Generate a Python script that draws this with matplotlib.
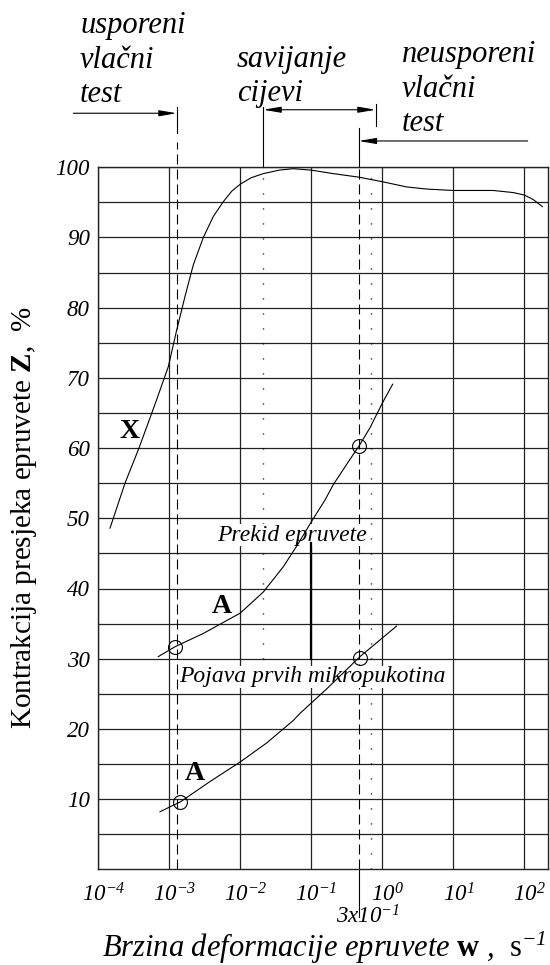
import matplotlib
matplotlib.use("Agg")
import matplotlib.pyplot as plt
import matplotlib.transforms as mtransforms
import numpy as np

plt.rcParams['font.family'] = ['Liberation Serif', 'DejaVu Serif']
plt.rcParams['mathtext.fontset'] = 'custom'
plt.rcParams['mathtext.rm'] = 'Liberation Serif:italic'
plt.rcParams['mathtext.it'] = 'Liberation Serif:italic'
plt.rcParams['mathtext.bf'] = 'Liberation Serif:bold'
plt.rcParams['mathtext.sf'] = 'Liberation Serif'
plt.rcParams['mathtext.default'] = 'it'

# data (x as log10 of strain rate, Z in %)
x_curve_log = [-3.835, -3.624, -3.427, -3.178, -3.014, -2.896, -2.779, -2.662, -2.521,
               -2.380, -2.239, -2.12, -2.0, -1.85, -1.676, -1.45, -1.254, -1.004,
               -0.69, -0.333, 0.0, 0.344, 0.625, 1.0, 1.563, 1.845, 2.0, 2.127, 2.254]
x_curve_z = [48.6, 55.0, 60.0, 66.9, 71.6, 76.8, 81.6, 86.1, 90.0,
             93.0, 95.1, 96.6, 97.6, 98.5, 99.1, 99.6, 99.8, 99.6,
             99.1, 98.6, 97.95, 97.2, 96.9, 96.7, 96.7, 96.4, 96.05, 95.4, 94.4]

a_break_log = [-3.155, -2.92, -2.521, -2.0, -1.676, -1.394, -1.183, -1.0, -0.807,
               -0.69, -0.455, -0.328, -0.173, 0.0, 0.146]
a_break_z = [30.3, 31.7, 33.6, 36.5, 39.5, 43.1, 46.4, 49.5, 52.6,
             54.8, 58.4, 60.3, 62.9, 66.4, 69.1]

a_crack_log = [-3.131, -2.84, -2.427, -2.0, -1.628, -1.254, -1.16, -0.783,
               -0.314, 0.203]
a_crack_z = [8.2, 9.63, 12.5, 15.3, 18.0, 21.2, 22.2, 25.7, 30.3, 34.66]

circle_log = [-2.915, -0.328, -2.854, -0.310]
circle_z = [31.6, 60.3, 9.63, 30.05]

xtick_vals = [1e-4, 1e-3, 1e-2, 1e-1, 1e0, 1e1, 1e2]
xtick_labels = [r'$10^{-4}$', r'$10^{-3}$', r'$10^{-2}$', r'$10^{-1}$',
                r'$10^{0}$', r'$10^{1}$', r'$10^{2}$']
ytick_vals = [10, 20, 30, 40, 50, 60, 70, 80, 90, 100]

w_slow = 1.27e-3      # dashed line, slow tensile test limit
w_bend = 0.0211       # dotted line, pipe bending start
w_fast = 0.465        # dashed line, 3x10^-1
w_bend_end = 0.807
w_dot2 = 0.70

W, H = 550, 965
fig = plt.figure(figsize=(W / 100, H / 100), dpi=100)
ax = fig.add_axes([98.3 / W, 1 - 869.3 / H, (548 - 98.3) / W, (869.3 - 167.3) / H])
ax.set_xscale('log')
ax.set_xlim(1e-4, 10 ** 2.334)
ax.set_ylim(0, 100)

ax.set_xticks(xtick_vals)
ax.set_xticklabels(xtick_labels)
ax.xaxis.set_minor_locator(matplotlib.ticker.NullLocator())
ax.set_yticks(ytick_vals)
ax.set_yticks(np.arange(5, 100, 10), minor=True)
ax.tick_params(axis='both', which='both', length=0, labelsize=16.5)
ax.tick_params(axis='x', pad=10)
ax.tick_params(axis='y', pad=6)
for lbl in ax.get_yticklabels():
    lbl.set_fontstyle('italic')
shift = mtransforms.ScaledTranslation(5 / 100, 0, fig.dpi_scale_trans)
for lbl in ax.get_xticklabels():
    lbl.set_transform(lbl.get_transform() + shift)
ax.grid(True, which='both', color='#222222', lw=0.9, zorder=1)
ax.set_axisbelow(True)
for sp in ax.spines.values():
    sp.set_linewidth(1.0)
    sp.set_color('#222222')

dash = (0, (9, 4.5))
dots = (0, (0.8, 10))
# vertical reference lines
ax.plot([w_slow, w_slow], [0, 103.6], color='black', lw=0.8, ls=dash, clip_on=False, zorder=1.5)
ax.plot([w_slow, w_slow], [104.85, 108.6], color='black', lw=0.8, clip_on=False, zorder=1.5)
ax.plot([w_fast, w_fast], [0, 100], color='black', lw=0.8, ls=dash, zorder=1.5)
ax.plot([w_fast, w_fast], [100, 105.66], color='black', lw=0.8, clip_on=False)
ax.plot([w_fast, w_fast], [-6.8, 0], color='black', lw=0.8, clip_on=False)
ax.plot([w_bend, w_bend], [30, 100], color='black', lw=1.0, ls=dots, zorder=1.5)
ax.plot([w_bend, w_bend], [100, 108.6], color='black', lw=0.8, clip_on=False)
ax.plot([w_bend_end, w_bend_end], [105.85, 109.0], color='black', lw=0.8, clip_on=False)
ax.plot([w_dot2, w_dot2], [0, 100], color='black', lw=1.0, ls=dots, zorder=1.5)
ax.plot([0.1, 0.1], [30, 46.5], color='black', lw=1.6, zorder=2.5)

arrow = dict(arrowstyle='-|>,head_length=1.05,head_width=0.18', color='black',
             lw=0.8, shrinkA=0, shrinkB=0, mutation_scale=10)
ax.annotate('', xy=(w_slow, 107.7), xytext=(4.45e-5, 107.7), arrowprops=arrow,
            annotation_clip=False)
ax.annotate('', xy=(w_fast, 103.75), xytext=(111.7, 103.75), arrowprops=arrow,
            annotation_clip=False)
arrow2 = dict(arrow, arrowstyle='<|-|>,head_length=1.05,head_width=0.18')
ax.annotate('', xy=(w_bend, 108.2), xytext=(w_bend_end, 108.2), arrowprops=arrow2,
            annotation_clip=False)

# curves
ax.plot(10 ** np.array(x_curve_log), x_curve_z, color='black', lw=0.8, zorder=3)
ax.plot(10 ** np.array(a_break_log), a_break_z, color='black', lw=0.8, zorder=3)
ax.plot(10 ** np.array(a_crack_log), a_crack_z, color='black', lw=0.8, zorder=3)
ax.plot(10 ** np.array(circle_log), circle_z, ls='none', marker='o', ms=10,
        mfc='none', mec='black', mew=0.8, zorder=3)

box = dict(facecolor='white', edgecolor='none', pad=0.5)
ax.text(10 ** -2.332, 47.6, 'Prekid epruvete', fontsize=17, style='italic',
        ha='left', va='center', bbox=box, zorder=2)
ax.text(10 ** -2.859, 27.4, 'Pojava prvih mikropukotina', fontsize=17, style='italic',
        ha='left', va='center', bbox=box, zorder=2)
ax.text(10 ** -3.566, 62.4, 'X', fontsize=20, fontweight='bold', ha='center', va='center')
ax.text(10 ** -2.262, 37.5, 'A', fontsize=20, fontweight='bold', ha='center', va='center')
ax.text(10 ** -2.638, 13.7, 'A', fontsize=20, fontweight='bold', ha='center', va='center')


def ftext(x, y, s, **kw):
    fig.text(x / W, 1 - y / H, s, **kw)


top = dict(fontsize=22, style='italic', ha='left', va='baseline')
ftext(80, 33, 'usporeni', **top)
ftext(80, 68, 'vlačni', **top)
ftext(80, 102, 'test', **top)
ftext(237, 67, 'savijanje', **top)
ftext(237, 101, 'cijevi', **top)
ftext(402, 62, 'neusporeni', **top)
ftext(402, 97, 'vlačni', **top)
ftext(402, 131, 'test', **top)

ftext(368, 917, r'$3x10^{-1}$', fontsize=16.5, ha='center', va='center')
ftext(324, 957, r'Brzina deformacije epruvete $\mathbf{w}$ ,  $\mathsf{s}^{-1}$',
      fontsize=22, style='italic', ha='center', va='baseline')
ftext(24, 517, r'Kontrakcija presjeka epruvete $\mathbf{Z}$,  %', fontsize=21,
      rotation=90, ha='center', va='center')

fig.savefig('out.png', dpi=100)
